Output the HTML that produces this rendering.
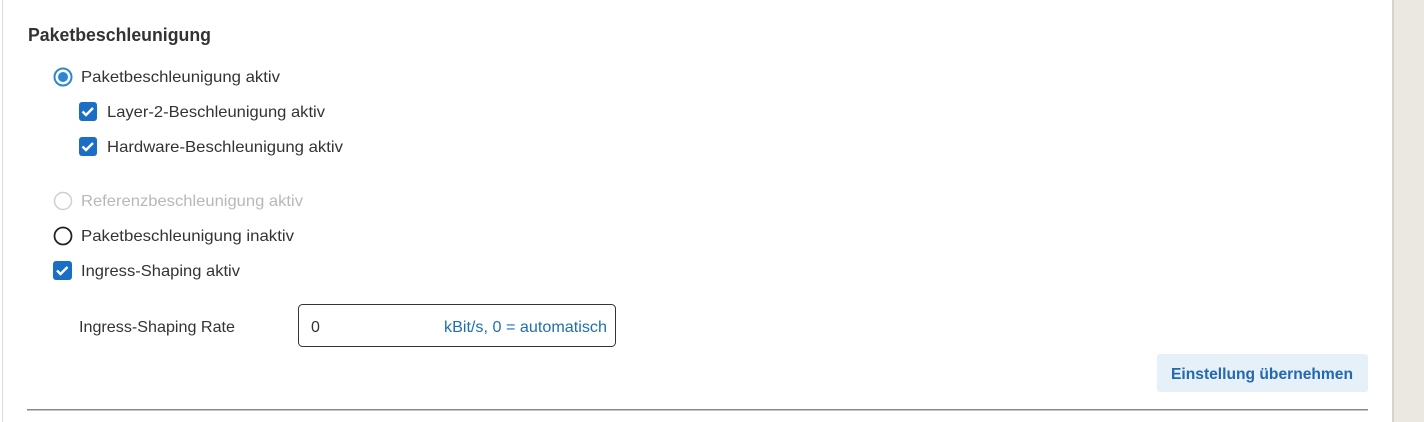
<!DOCTYPE html>
<html><head><meta charset="utf-8"><style>
html,body{margin:0;padding:0;background:#fff;width:1424px;height:422px;overflow:hidden}
svg{display:block}
text{font-family:"Liberation Sans",sans-serif}
</style></head><body>
<svg width="1424" height="422" viewBox="0 0 1424 422" xmlns="http://www.w3.org/2000/svg">
<rect x="0" y="0" width="1424" height="422" fill="#fff"/>
<rect x="1393" y="0" width="31" height="422" fill="#ebe8e2"/>
<rect x="1392" y="0" width="2" height="422" fill="#d6d3cc"/>
<rect x="2" y="0" width="1" height="422" fill="#dcdcdc"/>

<text x="28" y="41" font-size="18" font-weight="bold" fill="#333" textLength="183" lengthAdjust="spacingAndGlyphs">Paketbeschleunigung</text>

<circle cx="63" cy="77" r="8.5" fill="none" stroke="#2b87d3" stroke-width="2"/>
<circle cx="63" cy="77" r="5" fill="#2b87d3"/>
<text x="81" y="82" font-size="16" fill="#333" textLength="199" lengthAdjust="spacingAndGlyphs">Paketbeschleunigung aktiv</text>

<rect x="79" y="102" width="18" height="19" rx="3" fill="#1a6fc4"/>
<path d="M82.5 111.5 l3.5 3.5 l7 -7" fill="none" stroke="#fff" stroke-width="2.4"/>
<text x="107" y="117" font-size="16" fill="#333" textLength="218" lengthAdjust="spacingAndGlyphs">Layer-2-Beschleunigung aktiv</text>

<rect x="79" y="137" width="18" height="19" rx="3" fill="#1a6fc4"/>
<path d="M82.5 146.5 l3.5 3.5 l7 -7" fill="none" stroke="#fff" stroke-width="2.4"/>
<text x="107" y="152" font-size="16" fill="#333" textLength="236" lengthAdjust="spacingAndGlyphs">Hardware-Beschleunigung aktiv</text>

<circle cx="63" cy="201" r="8.5" fill="none" stroke="#cfcfcf" stroke-width="1.5"/>
<text x="81" y="206" font-size="16" fill="#b8b8b8" textLength="222" lengthAdjust="spacingAndGlyphs">Referenzbeschleunigung aktiv</text>

<circle cx="63" cy="236" r="8.5" fill="none" stroke="#222" stroke-width="1.8"/>
<text x="81" y="241" font-size="16" fill="#333" textLength="213" lengthAdjust="spacingAndGlyphs">Paketbeschleunigung inaktiv</text>

<rect x="53" y="261" width="19" height="19" rx="3" fill="#1a6fc4"/>
<path d="M57 270.5 l3.5 3.5 l7 -7" fill="none" stroke="#fff" stroke-width="2.4"/>
<text x="81" y="276" font-size="16" fill="#333" textLength="159" lengthAdjust="spacingAndGlyphs">Ingress-Shaping aktiv</text>

<text x="79" y="332" font-size="16" fill="#333" textLength="156" lengthAdjust="spacingAndGlyphs">Ingress-Shaping Rate</text>
<rect x="298.5" y="304.5" width="317" height="42" rx="4" fill="#fff" stroke="#333" stroke-width="1"/>
<text x="311" y="332" font-size="16" fill="#333">0</text>
<text x="444" y="332" font-size="16" fill="#1f6fae" textLength="163" lengthAdjust="spacingAndGlyphs">kBit/s, 0 = automatisch</text>

<rect x="1157" y="354" width="211" height="38" rx="3" fill="#e6f0f9"/>
<text x="1171" y="379" font-size="16" font-weight="bold" fill="#2468ad" textLength="182" lengthAdjust="spacingAndGlyphs">Einstellung übernehmen</text>

<rect x="27" y="409" width="1341" height="1.5" fill="#888"/>
</svg>
</body></html>
